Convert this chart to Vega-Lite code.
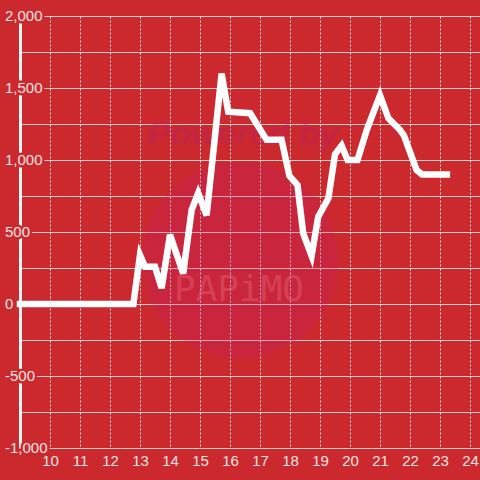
{
  "$schema": "https://vega.github.io/schema/vega-lite/v6.json",
  "width": 460,
  "height": 432,
  "autosize": "none",
  "padding": {"left": 20, "top": 16, "right": 0, "bottom": 32},
  "background": "#cc292e",
  "config": {
    "view": {"stroke": null},
    "font": "Liberation Sans"
  },
  "datasets": {
    "series": [
      {"h": 9.0, "v": 0}, {"h": 12.78, "v": 0}, {"h": 13.0, "v": 340}, {"h": 13.17, "v": 258},
      {"h": 13.5, "v": 258}, {"h": 13.72, "v": 110}, {"h": 14.0, "v": 480}, {"h": 14.44, "v": 212},
      {"h": 14.72, "v": 652}, {"h": 14.94, "v": 770}, {"h": 15.22, "v": 615}, {"h": 15.72, "v": 1600},
      {"h": 15.94, "v": 1335}, {"h": 16.67, "v": 1325}, {"h": 17.22, "v": 1140}, {"h": 17.72, "v": 1140},
      {"h": 17.98, "v": 890}, {"h": 18.25, "v": 826}, {"h": 18.44, "v": 490}, {"h": 18.72, "v": 335},
      {"h": 18.94, "v": 606}, {"h": 19.28, "v": 734}, {"h": 19.5, "v": 1040}, {"h": 19.72, "v": 1100},
      {"h": 19.92, "v": 1000}, {"h": 20.25, "v": 1000}, {"h": 20.56, "v": 1210}, {"h": 21.0, "v": 1450},
      {"h": 21.28, "v": 1290}, {"h": 21.67, "v": 1208}, {"h": 21.8, "v": 1170}, {"h": 22.22, "v": 930},
      {"h": 22.4, "v": 900}, {"h": 23.23, "v": 900}
    ],
    "ylabels": [
      {"v": 2000, "label": "2,000"}, {"v": 1500, "label": "1,500"}, {"v": 1000, "label": "1,000"},
      {"v": 500, "label": "500"}, {"v": 0, "label": "0"}, {"v": -500, "label": "-500"},
      {"v": -1000, "label": "-1,000"}
    ],
    "watermark": [{"name": "PAPIMO"}]
  },
  "encoding": {
    "x": {
      "type": "quantitative",
      "scale": {"domain": [9, 24.3333], "nice": false, "zero": false},
      "axis": {
        "orient": "bottom", "title": null, "values": [10,11,12,13,14,15,16,17,18,19,20,21,22,23,24],
        "domain": false, "ticks": false, "grid": true, "gridDash": [2, 2], "gridColor": "#e6e6e6", "gridWidth": 1,
        "labelColor": "#f4e4e4", "labelFontSize": 15, "labelFont": "Liberation Sans", "labelPadding": 5
      }
    },
    "y": {
      "type": "quantitative",
      "scale": {"domain": [-1000, 2000], "nice": false, "zero": false},
      "axis": {
        "title": null, "values": [-1000,-750,-500,-250,0,250,500,750,1000,1250,1500,1750,2000],
        "labels": false, "ticks": false, "domain": true, "domainColor": "#f5f5f5", "domainWidth": 3,
        "grid": true, "gridColor": "#cfcfcf", "gridWidth": 1
      }
    }
  },
  "layer": [
    {
      "data": {"name": "watermark"},
      "mark": {"type": "point", "filled": true, "size": 38400, "color": "#c01c7a", "opacity": 0.22, "strokeWidth": 0},
      "encoding": {"x": {"datum": 16.33, "type": "quantitative"}, "y": {"datum": 306, "type": "quantitative"}}
    },
    {
      "data": {"name": "watermark"},
      "mark": {"type": "text", "text": "Powered by", "fontSize": 34, "fontWeight": "bold", "fontStyle": "italic", "font": "Liberation Sans", "color": "#b51c71", "opacity": 0.3, "align": "center", "baseline": "middle"},
      "encoding": {"x": {"datum": 16.43, "type": "quantitative"}, "y": {"datum": 1174, "type": "quantitative"}}
    },
    {
      "data": {"name": "watermark"},
      "mark": {"type": "text", "text": "PAPiMO", "fontSize": 36, "font": "DejaVu Sans Mono", "color": "#f07080", "opacity": 0.35, "align": "center", "baseline": "middle"},
      "encoding": {"x": {"datum": 16.3, "type": "quantitative"}, "y": {"datum": 97, "type": "quantitative"}}
    },
    {
      "data": {"name": "series"},
      "mark": {"type": "line", "color": "#ffffff", "strokeWidth": 6.5, "strokeCap": "square", "clip": false},
      "encoding": {"x": {"field": "h", "type": "quantitative"}, "y": {"field": "v", "type": "quantitative"}}
    },
    {
      "data": {"name": "ylabels"},
      "mark": {"type": "text", "align": "left", "baseline": "middle", "dx": -15, "fontSize": 15, "font": "Liberation Sans", "fill": "#cc292e", "stroke": "#cc292e", "strokeWidth": 5},
      "encoding": {"x": {"datum": 9, "type": "quantitative"}, "y": {"field": "v", "type": "quantitative"}, "text": {"field": "label", "type": "nominal"}}
    },
    {
      "data": {"name": "ylabels"},
      "mark": {"type": "text", "align": "left", "baseline": "middle", "dx": -15, "fontSize": 15, "font": "Liberation Sans", "fill": "#f4e4e4"},
      "encoding": {"x": {"datum": 9, "type": "quantitative"}, "y": {"field": "v", "type": "quantitative"}, "text": {"field": "label", "type": "nominal"}}
    }
  ]
}
